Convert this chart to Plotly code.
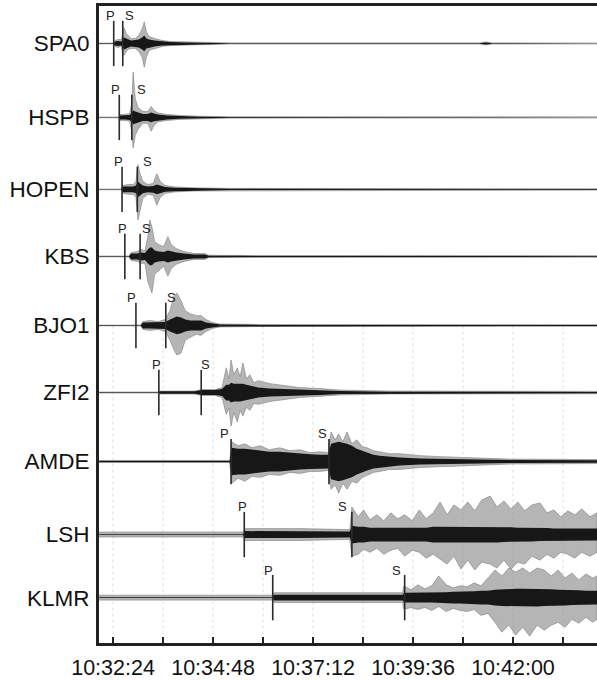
import plotly.graph_objects as go
from datetime import datetime, timedelta

# ---------------- data ----------------
stations = ["SPA0", "HSPB", "HOPEN", "KBS", "BJO1", "ZFI2", "AMDE", "LSH", "KLMR"]
# arrival picks, seconds after 10:32:24
p_times = [1, 9, 13, 17, 33, 66, 170, 189, 230]
s_times = [14, 27, 35, 39, 76, 127, 311, 344, 420]

# envelopes: time (s after 10:32:24), upper peak, lower peak, dense core half-width
spa0_t    = [-20, 1, 3, 7, 12, 14, 16, 19, 22, 26, 32, 37, 42, 45, 48, 52, 60, 71, 82, 104, 140, 168, 528, 537, 546, 697]
spa0_up   = [0.4, 0.4, 3, 4, 4, 12, 16, 10, 8, 5, 5, 8, 15, 22, 12, 7, 5, 3, 2, 1.5, 1, 0.6, 0.6, 1.5, 0.6, 0.5]
spa0_dn   = [0.4, 0.4, 3, 4, 3, 10, 12, 8, 6, 5, 5, 8, 14, 24, 14, 7, 5, 3, 2, 1.5, 1, 0.6, 0.6, 1.5, 0.6, 0.5]
spa0_core = [0.2, 0.2, 2, 2.5, 2, 4, 6, 5, 4, 3, 3.5, 4, 6, 8, 5, 4, 3, 2, 1.5, 1, 0.6, 0.3, 0.3, 1, 0.3, 0.2]

hspb_t    = [-20, 8, 10, 17, 24, 27, 29, 32, 36, 43, 50, 55, 59, 65, 78, 96, 125, 168, 697]
hspb_up   = [0.4, 0.4, 3, 3, 4, 14, 46, 19, 10, 6, 6, 11, 7, 4.5, 3, 2, 1.2, 0.7, 0.6]
hspb_dn   = [0.4, 0.4, 3, 3, 4, 14, 31, 18, 12, 6, 6, 14, 8, 4.5, 3, 2, 1.2, 0.7, 0.6]
hspb_core = [0.2, 0.2, 2, 2, 2.5, 5, 7, 6, 5, 3.5, 3.5, 5, 4, 3, 2, 1.3, 0.8, 0.4, 0.3]

hopen_t    = [-20, 12, 14, 22, 29, 33, 36, 39, 43, 50, 58, 63, 68, 75, 89, 118, 168, 697]
hopen_up   = [0.4, 0.4, 4, 5, 5, 8, 25, 16, 8, 5, 6, 16, 8, 4, 2.5, 1.6, 1, 0.7]
hopen_dn   = [0.4, 0.4, 4, 5, 5, 8, 31, 20, 9, 5, 6, 16, 8, 4, 2.5, 1.6, 1, 0.7]
hopen_core = [0.2, 0.2, 3, 3, 3, 4, 8, 6, 4, 3, 3.5, 5, 4, 2.5, 1.8, 1.1, 0.6, 0.4]

kbs_t    = [-20, 23, 26, 35, 40, 46, 50, 53, 56, 60, 66, 73, 79, 84, 91, 102, 117, 132, 138, 183, 697]
kbs_up   = [0.4, 0.4, 4, 5, 7, 6, 20, 37, 30, 15, 12, 10, 20, 12, 8, 5, 3, 3, 1.2, 1, 0.8]
kbs_dn   = [0.4, 0.4, 4, 5, 7, 7, 25, 30, 37, 18, 14, 10, 20, 12, 8, 5, 3, 3, 1.2, 1, 0.8]
kbs_core = [0.2, 0.2, 3, 3, 4, 3.5, 7, 9, 9, 6, 5, 4.5, 6, 5, 4, 3, 2, 2, 0.7, 0.6, 0.4]

bjo1_t    = [-20, 40, 43, 53, 65, 75, 82, 88, 92, 98, 104, 111, 120, 127, 134, 143, 154, 212, 697]
bjo1_up   = [0.4, 0.4, 4, 5, 4, 6, 15, 30, 33, 25, 15, 12, 10, 10, 6, 3, 1.5, 1, 0.8]
bjo1_dn   = [0.4, 0.4, 4, 5, 4, 6, 15, 25, 30, 28, 15, 12, 9, 10, 6, 3, 1.5, 1, 0.8]
bjo1_core = [0.2, 0.2, 3, 3, 3, 3.5, 6, 8, 9, 8, 6, 5, 5, 5, 3, 2, 1, 0.6, 0.4]

zfi2_t    = [-20, 65, 68, 118, 128, 147, 157, 163, 167, 170, 174, 179, 183, 187, 192, 197, 203, 209, 226, 248, 269, 298, 327, 399, 697]
zfi2_up   = [0.5, 0.5, 1.5, 1.5, 3, 3, 5, 25, 14, 33, 18, 25, 16, 30, 14, 18, 10, 12, 9, 7, 5, 4, 2.5, 1.5, 1.2]
zfi2_dn   = [0.5, 0.5, 1.5, 1.5, 3, 3, 5, 22, 16, 34, 20, 30, 18, 24, 15, 18, 11, 12, 9, 7, 5, 4, 2.5, 1.5, 1.2]
zfi2_core = [0.3, 0.3, 1.2, 1.3, 2.5, 2.5, 3.5, 8, 8, 10, 9, 9, 9, 9, 8, 7, 6, 5, 4, 3.5, 3, 2.5, 1.5, 0.8, 0.6]

amde_t    = [-20, 168, 171, 180, 190, 200, 212, 225, 240, 255, 269, 284, 298, 310, 314, 320, 325, 331, 337, 344, 351, 359, 366, 375, 384, 398, 413, 442, 471, 514, 572, 697]
amde_up   = [0.8, 0.8, 20, 16, 18, 14, 16, 12, 14, 11, 12, 9, 10, 9, 30, 22, 28, 20, 30, 18, 22, 15, 14, 11, 10, 8, 8, 6, 5, 4, 2.5, 2]
amde_dn   = [0.8, 0.8, 22, 17, 20, 15, 16, 13, 14, 11, 12, 10, 10, 9, 28, 24, 32, 22, 28, 20, 22, 16, 14, 11, 10, 8, 8, 6, 5, 4, 2.5, 2]
amde_core = [0.8, 0.8, 14, 13, 13, 12, 11, 10, 10, 9, 8, 7.5, 7, 7, 18, 19, 20, 19, 18, 16, 13, 11, 9, 7, 6, 5, 4, 3, 2.5, 2, 1.5, 1.3]

lsh_t    = [-20, 187, 190, 269, 341, 344, 353, 361, 370, 380, 390, 400, 410, 420, 431, 441, 451, 461, 471, 481, 491, 501,
            511, 521, 531, 543, 553, 563, 573, 583, 593, 603, 615, 625, 635, 645, 655, 665, 675, 687, 697]
lsh_up   = [2.5, 2.5, 6, 6, 5, 28, 18, 25, 15, 20, 14, 22, 16, 20, 14, 25, 16, 22, 33, 20, 30, 25,
            33, 24, 35, 39, 28, 34, 26, 33, 24, 30, 32, 22, 25, 18, 24, 20, 26, 18, 22]
lsh_dn   = [2.5, 2.5, 6, 6, 5, 22, 20, 15, 18, 14, 20, 16, 14, 22, 16, 18, 24, 20, 25, 30, 22, 35,
            26, 36, 28, 30, 34, 26, 35, 28, 30, 22, 26, 20, 24, 18, 20, 24, 18, 22, 18]
lsh_core = [0.4, 0.4, 3.5, 3.5, 3, 9, 8, 8, 7, 7, 7, 7, 6.5, 7, 7, 7, 7, 8, 8, 8, 8, 8,
            8, 8, 8, 8, 8, 7.5, 7.5, 7, 7, 7, 6.5, 6.5, 6, 6, 6, 6, 6, 6, 6]

klmr_t    = [-20, 229, 232, 312, 417, 419, 429, 439, 449, 459, 469, 480, 490, 500, 510, 520, 530, 540, 550, 560,
             570, 580, 590, 600, 611, 621, 631, 641, 651, 661, 671, 681, 691, 697]
klmr_up   = [2.5, 2.5, 5, 5, 5, 12, 8, 13, 9, 12, 22, 13, 10, 12, 11, 15, 12, 20, 28, 22,
             30, 26, 30, 25, 30, 28, 22, 28, 20, 25, 18, 24, 20, 22]
klmr_dn   = [2.5, 2.5, 5, 5, 5, 12, 10, 12, 10, 13, 9, 14, 11, 13, 14, 12, 18, 16, 25, 35,
             28, 38, 30, 39, 28, 33, 28, 25, 30, 22, 26, 20, 25, 22]
klmr_core = [0.4, 0.4, 3, 3, 3, 5, 5, 5, 5, 5, 5.5, 5.5, 6, 6, 6, 6.5, 7, 7, 8, 8.5,
             9, 9, 9, 9, 9, 8.5, 8.5, 8, 8, 7.5, 7.5, 7, 7, 7]

# tick labels (every 72 s, labelled every 144 s)
tick_times = ["10:32:24", "10:33:36", "10:34:48", "10:36:00", "10:37:12",
              "10:38:24", "10:39:36", "10:40:48", "10:42:00", "10:43:12"]
tick_labels = ["10:32:24", "", "10:34:48", "", "10:37:12",
               "", "10:39:36", "", "10:42:00", ""]

# ---------------- layout / style ----------------
row_y = [44, 119, 192, 260, 330, 398, 468, 542, 606]   # screen rows of traces
pick_half = 23                                         # half height of pick bars
p_label_dx = [-3, -4, -4, -2, -4, -2, -7, -2, -4]
s_label_dx = [7, 10, 10, 6, 6, 4, -6, -9, -8]

envelopes = [
    (spa0_t, spa0_up, spa0_dn, spa0_core),
    (hspb_t, hspb_up, hspb_dn, hspb_core),
    (hopen_t, hopen_up, hopen_dn, hopen_core),
    (kbs_t, kbs_up, kbs_dn, kbs_core),
    (bjo1_t, bjo1_up, bjo1_dn, bjo1_core),
    (zfi2_t, zfi2_up, zfi2_dn, zfi2_core),
    (amde_t, amde_up, amde_dn, amde_core),
    (lsh_t, lsh_up, lsh_dn, lsh_core),
    (klmr_t, klmr_up, klmr_dn, klmr_core),
]

T0 = datetime(2024, 1, 1, 10, 32, 24)


def ts(sec):
    return T0 + timedelta(seconds=sec)


def clock(s):
    h, m, sec = (int(v) for v in s.split(":"))
    return datetime(2024, 1, 1, h, m, sec)


fig = go.Figure()

for i, (t, up, dn, core) in enumerate(envelopes):
    base = row_y[i]
    xs = [ts(v) for v in t]
    # outer (peak) envelope in grey
    fig.add_trace(go.Scatter(
        x=xs + xs[::-1],
        y=[base - u for u in up] + [base + d for d in dn][::-1],
        fill="toself", fillcolor="rgba(150,150,150,0.7)",
        line=dict(color="rgba(130,130,130,0.9)", width=0.7),
        mode="lines", hoverinfo="skip", showlegend=False))
    # dense core in black
    fig.add_trace(go.Scatter(
        x=xs + xs[::-1],
        y=[base - c for c in core] + [base + c for c in core][::-1],
        fill="toself", fillcolor="rgba(15,15,15,0.95)",
        line=dict(width=0),
        mode="lines", hoverinfo="skip", showlegend=False))

# pick bars
px, py = [], []
for i in range(len(stations)):
    for tt in (p_times[i], s_times[i]):
        px += [ts(tt), ts(tt), None]
        py += [row_y[i] - pick_half, row_y[i] + pick_half, None]
fig.add_trace(go.Scatter(x=px, y=py, mode="lines",
                         line=dict(color="#2a2a2a", width=1.6),
                         hoverinfo="skip", showlegend=False))

annotations = []
for i in range(len(stations)):
    for lab, tt, dx in (("P", p_times[i], p_label_dx[i]), ("S", s_times[i], s_label_dx[i])):
        annotations.append(dict(
            x=ts(tt), y=row_y[i] - pick_half - 5, xref="x", yref="y",
            text=lab, showarrow=False, xshift=dx,
            font=dict(family="Liberation Sans, Arial", size=13, color="#222")))

# faint vertical grid (lower part)
shapes = []
for tk in tick_times:
    shapes.append(dict(type="line", xref="x", yref="y",
                       x0=clock(tk), x1=clock(tk), y0=330, y1=652,
                       line=dict(color="rgba(180,180,180,0.45)", width=1, dash="dot"),
                       layer="below"))

fig.update_layout(
    width=597, height=680,
    margin=dict(l=99, r=0, t=6, b=28),
    paper_bgcolor="white", plot_bgcolor="white",
    showlegend=False,
    annotations=annotations,
    shapes=shapes,
    xaxis=dict(
        type="date", range=[ts(-20.2), ts(697)],
        tickvals=[clock(v) for v in tick_times], ticktext=tick_labels,
        ticks="inside", ticklen=6, tickwidth=1.5, tickcolor="#222",
        showline=True, linewidth=3, linecolor="#222", mirror=True,
        showgrid=False, zeroline=False,
        tickfont=dict(family="Liberation Sans, Arial", size=21.5, color="#111"),
        ticklabelstandoff=3,
    ),
    yaxis=dict(
        range=[652, 6],
        tickvals=row_y, ticktext=stations,
        ticks="", showline=True, linewidth=3, linecolor="#222",
        showgrid=False, zeroline=False,
        tickfont=dict(family="Liberation Sans, Arial", size=22.5, color="#111"),
        ticklabelstandoff=2,
    ),
)

fig.write_html("out.html", config={"displayModeBar": False},
               post_script="document.body.style.margin='0';")
